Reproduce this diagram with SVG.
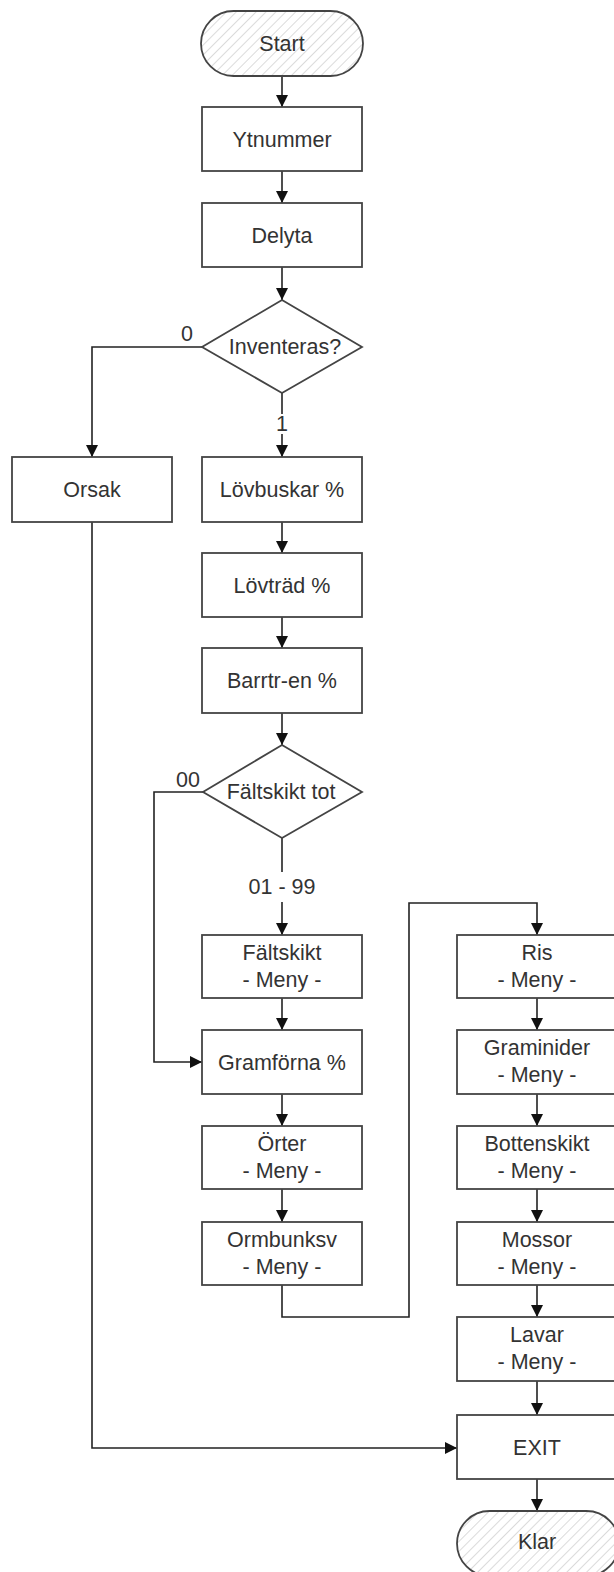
<svg xmlns="http://www.w3.org/2000/svg" width="614" height="1572" viewBox="0 0 614 1572">
<style>
.box{fill:#fff;stroke:#444;stroke-width:1.8}
.term{fill:url(#hatch);stroke:#444;stroke-width:1.8}
.t{font-family:"Liberation Sans",Arial,sans-serif;font-size:21.5px;fill:#333;text-anchor:middle}
.c{fill:none;stroke:#222;stroke-width:1.6;marker-end:url(#arr)}
.cn{fill:none;stroke:#222;stroke-width:1.6}
</style>
<defs>
<pattern id="hatch" patternUnits="userSpaceOnUse" width="7" height="7" patternTransform="rotate(45)">
<rect width="7" height="7" fill="#fff"/>
<line x1="0" y1="0" x2="0" y2="7" stroke="#b8b8b8" stroke-width="1"/>
</pattern>
<marker id="arr" markerWidth="13" markerHeight="13" refX="12" refY="6" orient="auto" markerUnits="userSpaceOnUse">
<path d="M0,0 L12,6 L0,12 Z" fill="#111"/>
</marker>
</defs>
<rect width="614" height="1572" fill="#fff"/>
<g id="connectors">
<line class="c" x1="282" y1="76" x2="282" y2="107"/>
<line class="c" x1="282" y1="171" x2="282" y2="203"/>
<line class="c" x1="282" y1="267" x2="282" y2="300"/>
<polyline class="c" points="202,347 92,347 92,457"/>
<line class="cn" x1="282" y1="393" x2="282" y2="414"/>
<line class="c" x1="282" y1="434" x2="282" y2="457"/>
<line class="c" x1="282" y1="522" x2="282" y2="553"/>
<line class="c" x1="282" y1="617" x2="282" y2="648"/>
<line class="c" x1="282" y1="713" x2="282" y2="745"/>
<polyline class="c" points="203,792 154,792 154,1062 202,1062"/>
<line class="cn" x1="282" y1="838" x2="282" y2="872"/>
<line class="c" x1="282" y1="902" x2="282" y2="935"/>
<line class="c" x1="282" y1="998" x2="282" y2="1030"/>
<line class="c" x1="282" y1="1094" x2="282" y2="1126"/>
<line class="c" x1="282" y1="1189" x2="282" y2="1222"/>
<polyline class="c" points="282,1285 282,1317 409,1317 409,903 537,903 537,935"/>
<line class="c" x1="537" y1="998" x2="537" y2="1030"/>
<line class="c" x1="537" y1="1094" x2="537" y2="1126"/>
<line class="c" x1="537" y1="1189" x2="537" y2="1222"/>
<line class="c" x1="537" y1="1285" x2="537" y2="1317"/>
<line class="c" x1="537" y1="1381" x2="537" y2="1415"/>
<polyline class="c" points="92,522 92,1448 457,1448"/>
<line class="c" x1="537" y1="1479" x2="537" y2="1511"/>
<text class="t" x="187" y="341">0</text>
<text class="t" x="282" y="431">1</text>
<text class="t" x="188" y="787">00</text>
<text class="t" x="282" y="894">01 - 99</text>
</g>
<g id="start"><rect class="term" x="201" y="11" width="162" height="65" rx="32.5"/><text class="t" x="282" y="51">Start</text></g>
<g id="ytnummer"><rect class="box" x="202" y="107" width="160" height="64"/><text class="t" x="282" y="147">Ytnummer</text></g>
<g id="delyta"><rect class="box" x="202" y="203" width="160" height="64"/><text class="t" x="282" y="243">Delyta</text></g>
<g id="inventeras"><polygon class="box" points="282,300 362,347 282,393 202,347"/><text class="t" x="285" y="354">Inventeras?</text></g>
<g id="orsak"><rect class="box" x="12" y="457" width="160" height="65"/><text class="t" x="92" y="497">Orsak</text></g>
<g id="lovbuskar"><rect class="box" x="202" y="457" width="160" height="65"/><text class="t" x="282" y="497">Lövbuskar %</text></g>
<g id="lovtrad"><rect class="box" x="202" y="553" width="160" height="64"/><text class="t" x="282" y="593">Lövträd %</text></g>
<g id="barrtr"><rect class="box" x="202" y="648" width="160" height="65"/><text class="t" x="282" y="688">Barrtr-en %</text></g>
<g id="faltskikttot"><polygon class="box" points="282,745 362,792 282,838 203,792"/><text class="t" x="281" y="799">Fältskikt tot</text></g>
<g id="faltskikt"><rect class="box" x="202" y="935" width="160" height="63"/><text class="t" x="282" y="960">Fältskikt</text><text class="t" x="282" y="987">- Meny -</text></g>
<g id="gramforna"><rect class="box" x="202" y="1030" width="160" height="64"/><text class="t" x="282" y="1070">Gramförna %</text></g>
<g id="orter"><rect class="box" x="202" y="1126" width="160" height="63"/><text class="t" x="282" y="1151">Örter</text><text class="t" x="282" y="1178">- Meny -</text></g>
<g id="ormbunksv"><rect class="box" x="202" y="1222" width="160" height="63"/><text class="t" x="282" y="1247">Ormbunksv</text><text class="t" x="282" y="1274">- Meny -</text></g>
<g id="ris"><rect class="box" x="457" y="935" width="160" height="63"/><text class="t" x="537" y="960">Ris</text><text class="t" x="537" y="987">- Meny -</text></g>
<g id="graminider"><rect class="box" x="457" y="1030" width="160" height="64"/><text class="t" x="537" y="1055">Graminider</text><text class="t" x="537" y="1082">- Meny -</text></g>
<g id="bottenskikt"><rect class="box" x="457" y="1126" width="160" height="63"/><text class="t" x="537" y="1151">Bottenskikt</text><text class="t" x="537" y="1178">- Meny -</text></g>
<g id="mossor"><rect class="box" x="457" y="1222" width="160" height="63"/><text class="t" x="537" y="1247">Mossor</text><text class="t" x="537" y="1274">- Meny -</text></g>
<g id="lavar"><rect class="box" x="457" y="1317" width="160" height="64"/><text class="t" x="537" y="1342">Lavar</text><text class="t" x="537" y="1369">- Meny -</text></g>
<g id="exit"><rect class="box" x="457" y="1415" width="160" height="64"/><text class="t" x="537" y="1455">EXIT</text></g>
<g id="klar"><rect class="term" x="457" y="1511" width="162" height="65" rx="32.5"/><text class="t" x="537" y="1549">Klar</text></g>
</svg>
